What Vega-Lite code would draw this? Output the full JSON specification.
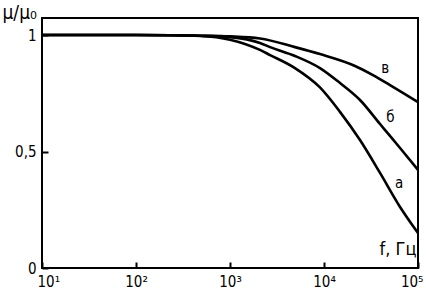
{
  "$schema": "https://vega.github.io/schema/vega-lite/v6.json",
  "width": 376,
  "height": 250,
  "autosize": {"type": "none"},
  "padding": {"left": 42, "top": 18, "right": 8, "bottom": 32},
  "background": "white",
  "config": {
    "view": {"stroke": "black", "strokeWidth": 2},
    "font": "DejaVu Sans Condensed"
  },
  "datasets": {
    "curves": [
      {"f": 10, "mu": 1.0, "curve": "а"},
      {"f": 100, "mu": 1.0, "curve": "а"},
      {"f": 230, "mu": 0.999, "curve": "а"},
      {"f": 480, "mu": 0.996, "curve": "а"},
      {"f": 1000, "mu": 0.98, "curve": "а"},
      {"f": 2084, "mu": 0.936, "curve": "а"},
      {"f": 2667, "mu": 0.914, "curve": "а"},
      {"f": 4909, "mu": 0.858, "curve": "а"},
      {"f": 9057, "mu": 0.775, "curve": "а"},
      {"f": 14790, "mu": 0.67, "curve": "а"},
      {"f": 24150, "mu": 0.549, "curve": "а"},
      {"f": 39450, "mu": 0.408, "curve": "а"},
      {"f": 64420, "mu": 0.262, "curve": "а"},
      {"f": 100000, "mu": 0.15, "curve": "а"},
      {"f": 10, "mu": 1.0, "curve": "б"},
      {"f": 100, "mu": 1.0, "curve": "б"},
      {"f": 230, "mu": 0.999, "curve": "б"},
      {"f": 480, "mu": 0.997, "curve": "б"},
      {"f": 1000, "mu": 0.991, "curve": "б"},
      {"f": 2084, "mu": 0.966, "curve": "б"},
      {"f": 2667, "mu": 0.948, "curve": "б"},
      {"f": 4909, "mu": 0.91, "curve": "б"},
      {"f": 9057, "mu": 0.858, "curve": "б"},
      {"f": 14790, "mu": 0.794, "curve": "б"},
      {"f": 24150, "mu": 0.721, "curve": "б"},
      {"f": 39450, "mu": 0.618, "curve": "б"},
      {"f": 50350, "mu": 0.567, "curve": "б"},
      {"f": 64420, "mu": 0.515, "curve": "б"},
      {"f": 100000, "mu": 0.421, "curve": "б"},
      {"f": 10, "mu": 1.0, "curve": "в"},
      {"f": 100, "mu": 1.0, "curve": "в"},
      {"f": 230, "mu": 0.999, "curve": "в"},
      {"f": 480, "mu": 0.997, "curve": "в"},
      {"f": 1000, "mu": 0.994, "curve": "в"},
      {"f": 2084, "mu": 0.985, "curve": "в"},
      {"f": 4909, "mu": 0.948, "curve": "в"},
      {"f": 9057, "mu": 0.918, "curve": "в"},
      {"f": 21380, "mu": 0.867, "curve": "в"},
      {"f": 33190, "mu": 0.828, "curve": "в"},
      {"f": 50350, "mu": 0.785, "curve": "в"},
      {"f": 100000, "mu": 0.712, "curve": "в"}
    ],
    "labels": [
      {"f": 44700, "mu": 0.858, "curve": "в"},
      {"f": 51000, "mu": 0.648, "curve": "б"},
      {"f": 63000, "mu": 0.365, "curve": "а"}
    ]
  },
  "layer": [
    {
      "data": {"name": "curves"},
      "mark": {"type": "line", "color": "black", "strokeWidth": 2.6, "interpolate": "monotone"},
      "encoding": {
        "x": {
          "field": "f", "type": "quantitative",
          "scale": {"type": "log", "domain": [10, 100000], "nice": false},
          "axis": {
            "values": [10, 100, 1000, 10000, 100000],
            "labelExpr": "datum.value == 10 ? '10¹' : datum.value == 100 ? '10²' : datum.value == 1000 ? '10³' : datum.value == 10000 ? '10⁴' : '10⁵'",
            "grid": false, "domain": false,
            "tickSize": -6, "tickColor": "black", "tickWidth": 2,
            "labelPadding": 12, "labelFontSize": 15, "labelColor": "black",
            "labelFlush": true, "labelFlushOffset": 5,
            "title": "f, Гц", "titleFontSize": 18, "titleFontWeight": "normal", "titleColor": "black",
            "titleX": 374, "titleY": -10, "titleAlign": "right", "titleBaseline": "bottom"
          }
        },
        "y": {
          "field": "mu", "type": "quantitative",
          "scale": {"domain": [0, 1.073], "nice": false, "zero": false},
          "axis": {
            "values": [0, 0.5, 1],
            "labelExpr": "datum.value == 0.5 ? '0,5' : format(datum.value, 'd')",
            "grid": false, "domain": false,
            "tickSize": -6, "tickColor": "black", "tickWidth": 2,
            "labelPadding": 12, "labelFontSize": 15, "labelColor": "black",
            "title": "μ/μ₀", "titleAngle": 0, "titleFontSize": 19, "titleFontWeight": "normal", "titleColor": "black",
            "titleX": -40, "titleY": 4, "titleAlign": "left", "titleBaseline": "bottom"
          }
        },
        "detail": {"field": "curve"}
      }
    },
    {
      "data": {"name": "labels"},
      "mark": {"type": "text", "fontSize": 15, "color": "black", "align": "center", "baseline": "middle"},
      "encoding": {
        "x": {"field": "f", "type": "quantitative"},
        "y": {"field": "mu", "type": "quantitative"},
        "text": {"field": "curve"}
      }
    }
  ]
}
